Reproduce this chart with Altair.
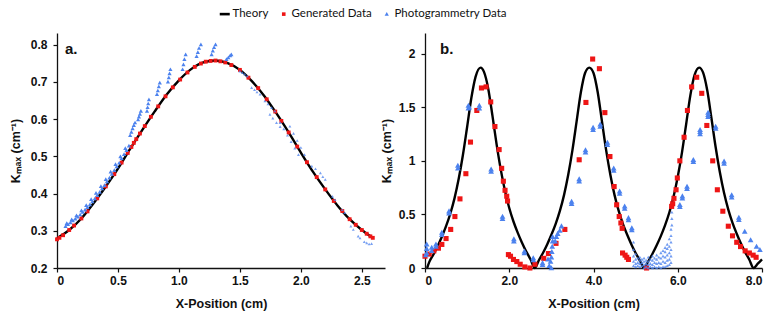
import altair as alt
import pandas as pd

SERIES = ["Theory", "Generated Data", "Photogrammetry Data"]

# ---------------- Panel a ----------------
a_theory_x = [0.0, 0.1, 0.2, 0.3, 0.4, 0.5, 0.6, 0.7, 0.8, 0.9, 1.0, 1.1, 1.2, 1.3,
              1.4, 1.5, 1.6, 1.7, 1.8, 1.9, 2.0, 2.1, 2.2, 2.3, 2.4, 2.5, 2.59]
a_theory_y = [0.280, 0.302, 0.333, 0.374, 0.419, 0.467, 0.520, 0.571, 0.620, 0.666, 0.704,
              0.734, 0.752, 0.757, 0.750, 0.732, 0.701, 0.662, 0.615, 0.564, 0.510, 0.458,
              0.411, 0.368, 0.331, 0.302, 0.281]

a_gen_x = [0.0, 0.02, 0.05, 0.1, 0.14, 0.2, 0.25, 0.33, 0.4, 0.47, 0.53, 0.58, 0.61, 0.63,
           0.65, 0.68, 0.72, 0.77, 0.83, 0.89, 0.95, 1.01, 1.07, 1.13, 1.18, 1.22, 1.26, 1.3,
           1.34, 1.38, 1.43, 1.5, 1.57, 1.65, 1.72, 1.79, 1.84, 1.9, 1.97, 2.05, 2.13, 2.2,
           2.27, 2.34, 2.4, 2.45, 2.5, 2.54, 2.57, 2.59]
a_gen_y = [0.277, 0.281, 0.288, 0.302, 0.314, 0.333, 0.352, 0.387, 0.419, 0.452, 0.483,
           0.509, 0.525, 0.536, 0.546, 0.561, 0.581, 0.606, 0.634, 0.661, 0.685, 0.706,
           0.725, 0.740, 0.749, 0.754, 0.756, 0.757, 0.755, 0.752, 0.745, 0.732, 0.711,
           0.683, 0.653, 0.620, 0.595, 0.564, 0.526, 0.484, 0.444, 0.411, 0.380, 0.353,
           0.331, 0.316, 0.302, 0.292, 0.285, 0.281]

a_photo_x = [0.07, 0.09, 0.11, 0.13, 0.15, 0.17, 0.19, 0.21, 0.23, 0.25, 0.27, 0.29, 0.31,
             0.33, 0.35, 0.37, 0.39, 0.41, 0.43, 0.45, 0.47, 0.49, 0.51, 0.53, 0.55, 0.57,
             0.59, 0.08, 0.12, 0.16, 0.2, 0.24, 0.28, 0.32, 0.36, 0.4, 0.44, 0.48, 0.52,
             0.56,
             0.60, 0.61, 0.62, 0.63, 0.64,
             0.665, 0.672, 0.68, 0.688,
             0.738, 0.743, 0.748, 0.754,
             0.82, 0.827, 0.835, 0.843,
             0.91, 0.917, 0.923, 0.93,
             1.03, 1.037, 1.045, 1.055,
             1.145, 1.155, 1.165, 1.18,
             1.268, 1.278, 1.288, 1.30,
             1.39, 1.405, 1.42, 1.43]
a_photo_y = [0.312, 0.317, 0.322, 0.327, 0.332, 0.337, 0.343, 0.350, 0.356, 0.363, 0.370,
             0.378, 0.386, 0.395, 0.404, 0.413, 0.422, 0.432, 0.442, 0.452, 0.462, 0.472,
             0.482, 0.494, 0.505, 0.516, 0.528, 0.320, 0.330, 0.341, 0.354, 0.368, 0.384,
             0.401, 0.419, 0.438, 0.458, 0.478, 0.499, 0.521,
             0.556, 0.565, 0.574, 0.583, 0.590,
             0.598, 0.606, 0.613, 0.621,
             0.621, 0.631, 0.641, 0.652,
             0.666, 0.676, 0.687, 0.697,
             0.700, 0.711, 0.722, 0.733,
             0.733, 0.746, 0.760, 0.773,
             0.768, 0.779, 0.790, 0.800,
             0.773, 0.783, 0.792, 0.800,
             0.760, 0.765, 0.770, 0.773]

a_photo_faint_x = [1.50, 1.52, 1.54, 1.56, 1.596, 1.62, 1.64, 1.665, 1.705, 1.73, 1.76, 1.787,
                   1.746, 1.77, 1.80, 1.83, 1.83, 1.86, 1.89, 1.92, 1.95, 1.98,
                   1.91, 1.94, 1.97, 2.0, 2.03, 2.09, 2.12, 2.16,
                   2.18, 2.20, 2.26, 2.28, 2.34, 2.36, 2.41, 2.43, 2.47, 2.485, 2.52,
                   2.54, 2.56, 2.58]
a_photo_faint_y = [0.728, 0.724, 0.720, 0.715, 0.684, 0.678, 0.672, 0.666, 0.648, 0.640,
                   0.630, 0.621, 0.612, 0.602, 0.590, 0.579, 0.590, 0.573, 0.556, 0.539,
                   0.521, 0.504, 0.580, 0.561, 0.542, 0.523, 0.504, 0.473, 0.466, 0.455,
                   0.445, 0.437, 0.392, 0.383, 0.356, 0.348, 0.312, 0.303, 0.285, 0.280,
                   0.270, 0.267, 0.264, 0.265]

# ---------------- Panel b ----------------
b_theory_x = [0.05, 0.1, 0.2, 0.3, 0.4, 0.5, 0.6, 0.7, 0.8, 0.9, 1.0, 1.1, 1.2, 1.32,
              1.4, 1.5, 1.6, 1.7, 1.8, 1.9, 2.0, 2.1, 2.2, 2.3, 2.4, 2.5, 2.61,
              2.7, 2.8, 2.9, 3.0, 3.1, 3.2, 3.3, 3.4, 3.5, 3.6, 3.7, 3.8, 3.9,
              4.0, 4.1, 4.2, 4.3, 4.4, 4.5, 4.6, 4.7, 4.8, 4.9, 5.0, 5.1, 5.2,
              5.3, 5.4, 5.5, 5.6, 5.7, 5.8, 5.9, 6.0, 6.1, 6.2, 6.3, 6.4, 6.51,
              6.6, 6.7, 6.8, 6.9, 7.0, 7.1, 7.2, 7.3, 7.4, 7.5, 7.6, 7.7, 7.8, 7.9, 8.0]
b_theory_y = [0.0, 0.055, 0.126, 0.204, 0.292, 0.39, 0.506, 0.65, 0.832, 1.054, 1.316,
              1.586, 1.784, 1.87, 1.83, 1.676, 1.424, 1.154, 0.916, 0.718, 0.56, 0.434,
              0.33, 0.238, 0.156, 0.084, 0.0,
              0.07, 0.14, 0.22, 0.31, 0.41, 0.53, 0.68, 0.87, 1.10, 1.37, 1.64, 1.82, 1.87,
              1.82, 1.64, 1.37, 1.10, 0.87, 0.68, 0.53, 0.41, 0.31, 0.22, 0.14, 0.07, 0.0,
              0.063, 0.133, 0.212, 0.30, 0.40, 0.518, 0.665, 0.851, 1.077, 1.343, 1.613,
              1.802, 1.87,
              1.825, 1.658, 1.397, 1.127, 0.893, 0.699, 0.545, 0.422, 0.32, 0.228, 0.148,
              0.077, 0.0, 0.04, 0.08]

b_gen_x = [0.0, 0.10, 0.21, 0.32, 0.40, 0.50, 0.61, 0.71, 0.83, 0.97, 1.08, 1.23, 1.34,
           1.45, 1.56, 1.66, 1.76, 1.82, 1.86, 1.90, 1.94, 1.96,
           1.98, 2.03, 2.10, 2.18, 2.26, 2.37, 2.49, 2.61, 2.82, 2.93, 3.11, 3.32, 3.66,
           3.82, 3.98, 4.14, 4.27, 4.39, 4.49, 4.55, 4.61, 4.65, 4.68, 4.69, 4.75, 4.79,
           4.83, 5.26,
           5.855, 5.88, 5.91, 5.96, 5.99, 6.05, 6.15, 6.23, 6.33, 6.45, 6.57, 6.69, 6.83,
           6.94, 7.07, 7.20, 7.30, 7.40, 7.49, 7.60, 7.70, 7.79, 7.86]
b_gen_y = [0.11, 0.13, 0.16, 0.185, 0.22, 0.275, 0.36, 0.48, 0.645, 0.88, 1.175, 1.47,
           1.68, 1.69, 1.55, 1.32, 1.105, 0.93, 0.81, 0.725, 0.67, 0.625,
           0.125, 0.11, 0.08, 0.06, 0.035, 0.01, 0.0, 0.035, 0.09, 0.135, 0.23, 0.36, 1.01,
           1.545, 1.95, 1.86, 1.45, 1.04, 0.76, 0.59, 0.48, 0.42, 0.37, 0.14, 0.12, 0.10,
           0.08, 0.0,
           0.575, 0.60, 0.65, 0.73, 0.84, 1.00, 1.22, 1.47, 1.69, 1.78, 1.63, 1.33, 1.00,
           0.73, 0.53, 0.39, 0.30, 0.24, 0.20, 0.16, 0.14, 0.12, 0.10]

b_photo_x = [0.02, 0.04, 0.04, 0.04, 0.16, 0.16, 0.26, 0.26, 0.40, 0.40, 0.57, 0.57,
             0.78, 0.78, 1.03, 1.03, 1.05, 1.29, 1.29, 1.57, 1.57, 1.84, 1.84, 2.11, 2.11,
             2.36, 2.36, 2.57, 2.57, 2.79, 2.79,
             2.92, 2.95, 2.98, 3.0, 3.0, 3.01, 3.02, 3.03, 3.03,
             3.09, 3.12, 3.15, 3.2, 3.24, 3.48, 3.48, 3.66, 3.66, 3.81, 3.81, 3.99, 3.99,
             4.16, 4.16, 4.33, 4.33, 4.48, 4.48, 4.62, 4.62, 4.74, 4.74, 4.83, 4.83,
             4.91, 4.91,
             6.05, 6.05, 6.11, 6.11, 6.22, 6.22, 6.37, 6.37, 6.53, 6.53, 6.53, 6.72, 6.72,
             6.72, 6.90, 6.90, 7.10, 7.10, 7.28, 7.28, 7.45, 7.45, 7.59, 7.73, 7.87, 7.95]
b_photo_y = [0.12, 0.14, 0.18, 0.22, 0.19, 0.16, 0.22, 0.20, 0.33, 0.31, 0.53, 0.51,
             0.955, 0.93, 1.515, 1.49, 1.50, 1.515, 1.49, 0.92, 0.90, 0.48, 0.46, 0.27, 0.25,
             0.155, 0.14, 0.093, 0.075, 0.047, 0.03,
             0.08, 0.02, 0.06, 0.0, 0.10, 0.15, 0.20, 0.25, 0.29,
             0.25, 0.29, 0.32, 0.35, 0.39, 0.62, 0.60, 0.83, 0.81, 1.10, 1.08, 1.31, 1.29,
             1.34, 1.32, 1.17, 1.15, 0.93, 0.91, 0.715, 0.695, 0.575, 0.555, 0.467, 0.447,
             0.373, 0.353,
             0.59, 0.57, 0.67, 0.65, 0.76, 0.74, 1.01, 0.99, 1.29, 1.27, 1.25, 1.45, 1.43,
             1.41, 1.32, 1.30, 0.995, 0.975, 0.68, 0.66, 0.47, 0.45, 0.34, 0.26, 0.20, 0.17]

b_cloud_x = [4.95, 4.95, 4.95, 4.95, 4.95, 5.0, 5.0, 5.0, 5.0, 5.05, 5.05, 5.05,
             5.1, 5.1, 5.1, 5.1, 5.15, 5.15, 5.15, 5.2, 5.2, 5.2, 5.2, 5.25, 5.25, 5.25,
             5.3, 5.3, 5.3, 5.3, 5.35, 5.35, 5.35, 5.4, 5.4, 5.4, 5.4, 5.45, 5.45, 5.45,
             5.5, 5.5, 5.5, 5.5, 5.55, 5.55, 5.55, 5.6, 5.6, 5.6, 5.6, 5.65, 5.65, 5.65,
             5.65, 5.7, 5.7, 5.7, 5.7, 5.7, 5.75, 5.75, 5.75, 5.75, 5.75, 5.8, 5.8, 5.8,
             5.8, 5.8, 5.84, 5.84, 5.84, 5.84, 5.84, 5.84, 5.86, 5.86, 5.86]
b_cloud_y = [0.02, 0.06, 0.11, 0.17, 0.24, 0.01, 0.04, 0.08, 0.13, 0.02, 0.05, 0.09,
             0.01, 0.04, 0.07, 0.10, 0.02, 0.05, 0.08, 0.00, 0.03, 0.06, 0.09, 0.01, 0.04,
             0.07, 0.00, 0.03, 0.06, 0.10, 0.01, 0.04, 0.08, 0.00, 0.03, 0.07, 0.11, 0.01,
             0.05, 0.09, 0.00, 0.04, 0.08, 0.12, 0.01, 0.05, 0.10, 0.00, 0.04, 0.09, 0.14,
             0.01, 0.06, 0.11, 0.16, 0.01, 0.05, 0.10, 0.15, 0.19, 0.02, 0.07, 0.12, 0.18,
             0.22, 0.03, 0.08, 0.14, 0.20, 0.27, 0.05, 0.11, 0.17, 0.24, 0.30, 0.36, 0.40,
             0.46, 0.52]

# ---------------- styling ----------------
RED = "#EE1515"
BLUE = "#4C82EE"
BAR = "M-1,-0.26L1,-0.26L1,0.26L-1,0.26Z"
SQ = "M-0.36,-0.36L0.36,-0.36L0.36,0.36L-0.36,0.36Z"
TRI = "M0,-0.42L0.42,0.32L-0.42,0.32Z"

color_scale = alt.Scale(domain=SERIES, range=["#000000", RED, BLUE])
shape_scale = alt.Scale(domain=SERIES, range=[BAR, SQ, TRI])
legend = alt.Legend(orient="none", legendX=162, legendY=-25, direction="horizontal",
                    title=None, symbolSize=100, labelFont="Lato", labelFontSize=11.5,
                    labelColor="#111", columnPadding=9, labelOffset=2, symbolStrokeWidth=0)

FONT = "Liberation Sans"
ylab = "Kₘₐₓ (cm⁻¹)"
lab_expr = "datum.value == 0 ? '0' : format(datum.value, '.1f')"


def frame(x, y, s):
    return pd.DataFrame({"x": x, "y": y, "series": s})


def panel(theory, gen, photo, faint, xdom, xticks, ydom, yticks, yfmt, title, tdx,
          gen_size, photo_size, faint_size, faint_opacity, ytitle_pad, width):
    xenc = alt.X("x:Q", scale=alt.Scale(domain=xdom, nice=False, zero=False),
                 axis=alt.Axis(values=xticks, labelExpr=lab_expr, title="X-Position (cm)",
                               titlePadding=11, labelPadding=3))
    yaxis = alt.Axis(values=yticks, title=ylab, titlePadding=ytitle_pad, labelPadding=6,
                     format=yfmt)
    yenc = alt.Y("y:Q", scale=alt.Scale(domain=ydom, nice=False, zero=False), axis=yaxis)
    cenc = alt.Color("series:N", scale=color_scale, legend=legend)
    senc = alt.Shape("series:N", scale=shape_scale, legend=legend)

    line = alt.Chart(theory).mark_line(color="black", strokeWidth=2.4,
                                       interpolate="monotone").encode(x=xenc, y=yenc)
    red = alt.Chart(gen).mark_point(filled=True, opacity=1, size=gen_size).encode(
        x=xenc, y=yenc, color=cenc, shape=senc)
    blue = alt.Chart(photo).mark_point(filled=True, opacity=1, size=photo_size).encode(
        x=xenc, y=yenc, color=cenc, shape=senc)
    faint_layer = alt.Chart(faint).mark_point(filled=True, opacity=faint_opacity,
                                              size=faint_size).encode(
        x=xenc, y=yenc, color=cenc, shape=senc)
    return alt.layer(line, red, blue, faint_layer).properties(
        width=width, height=235,
        title=alt.TitleParams(title, anchor="start", frame="group", dx=tdx, dy=24,
                              offset=0, font=FONT, fontSize=15, fontWeight="bold",
                              color="#111"))


pa = panel(frame(a_theory_x, a_theory_y, "Theory"),
           frame(a_gen_x, a_gen_y, "Generated Data"),
           frame(a_photo_x, a_photo_y, "Photogrammetry Data"),
           frame(a_photo_faint_x, a_photo_faint_y, "Photogrammetry Data"),
           [0, 2.69], [0, 0.5, 1.0, 1.5, 2.0, 2.5], [0.2, 0.831],
           [0.2, 0.3, 0.4, 0.5, 0.6, 0.7, 0.8], ".1f", "a.", 8, 115, 100, 50, 0.75, 8, 328)

pb = panel(frame(b_theory_x, b_theory_y, "Theory"),
           frame(b_gen_x, b_gen_y, "Generated Data"),
           frame(b_photo_x, b_photo_y, "Photogrammetry Data"),
           frame(b_cloud_x, b_cloud_y, "Photogrammetry Data"),
           [0, 8], [0, 2, 4, 6, 8], [0, 2.193], [0, 0.5, 1, 1.5, 2], "~g", "b.", 15,
           200, 185, 60, 0.8, 5, 337)

chart = alt.hconcat(pa, pb, spacing=40, bounds="flush").properties(
    autosize=alt.AutoSizeParams(type="none"),
    padding={"left": 57, "top": 33, "right": 716, "bottom": 287},
).configure_view(stroke=None).configure_axis(
    grid=False, domainColor="#111", domainWidth=1.3, tickColor="#111", tickWidth=1.2,
    tickSize=4, labelFont=FONT, labelFontWeight="bold", labelFontSize=12,
    labelColor="#111", titleFont=FONT, titleFontWeight="bold", titleFontSize=12.5,
    titleColor="#111"
).configure_legend(symbolStrokeWidth=0)

chart.save("out.html", embed_options={"renderer": "svg", "actions": False})
